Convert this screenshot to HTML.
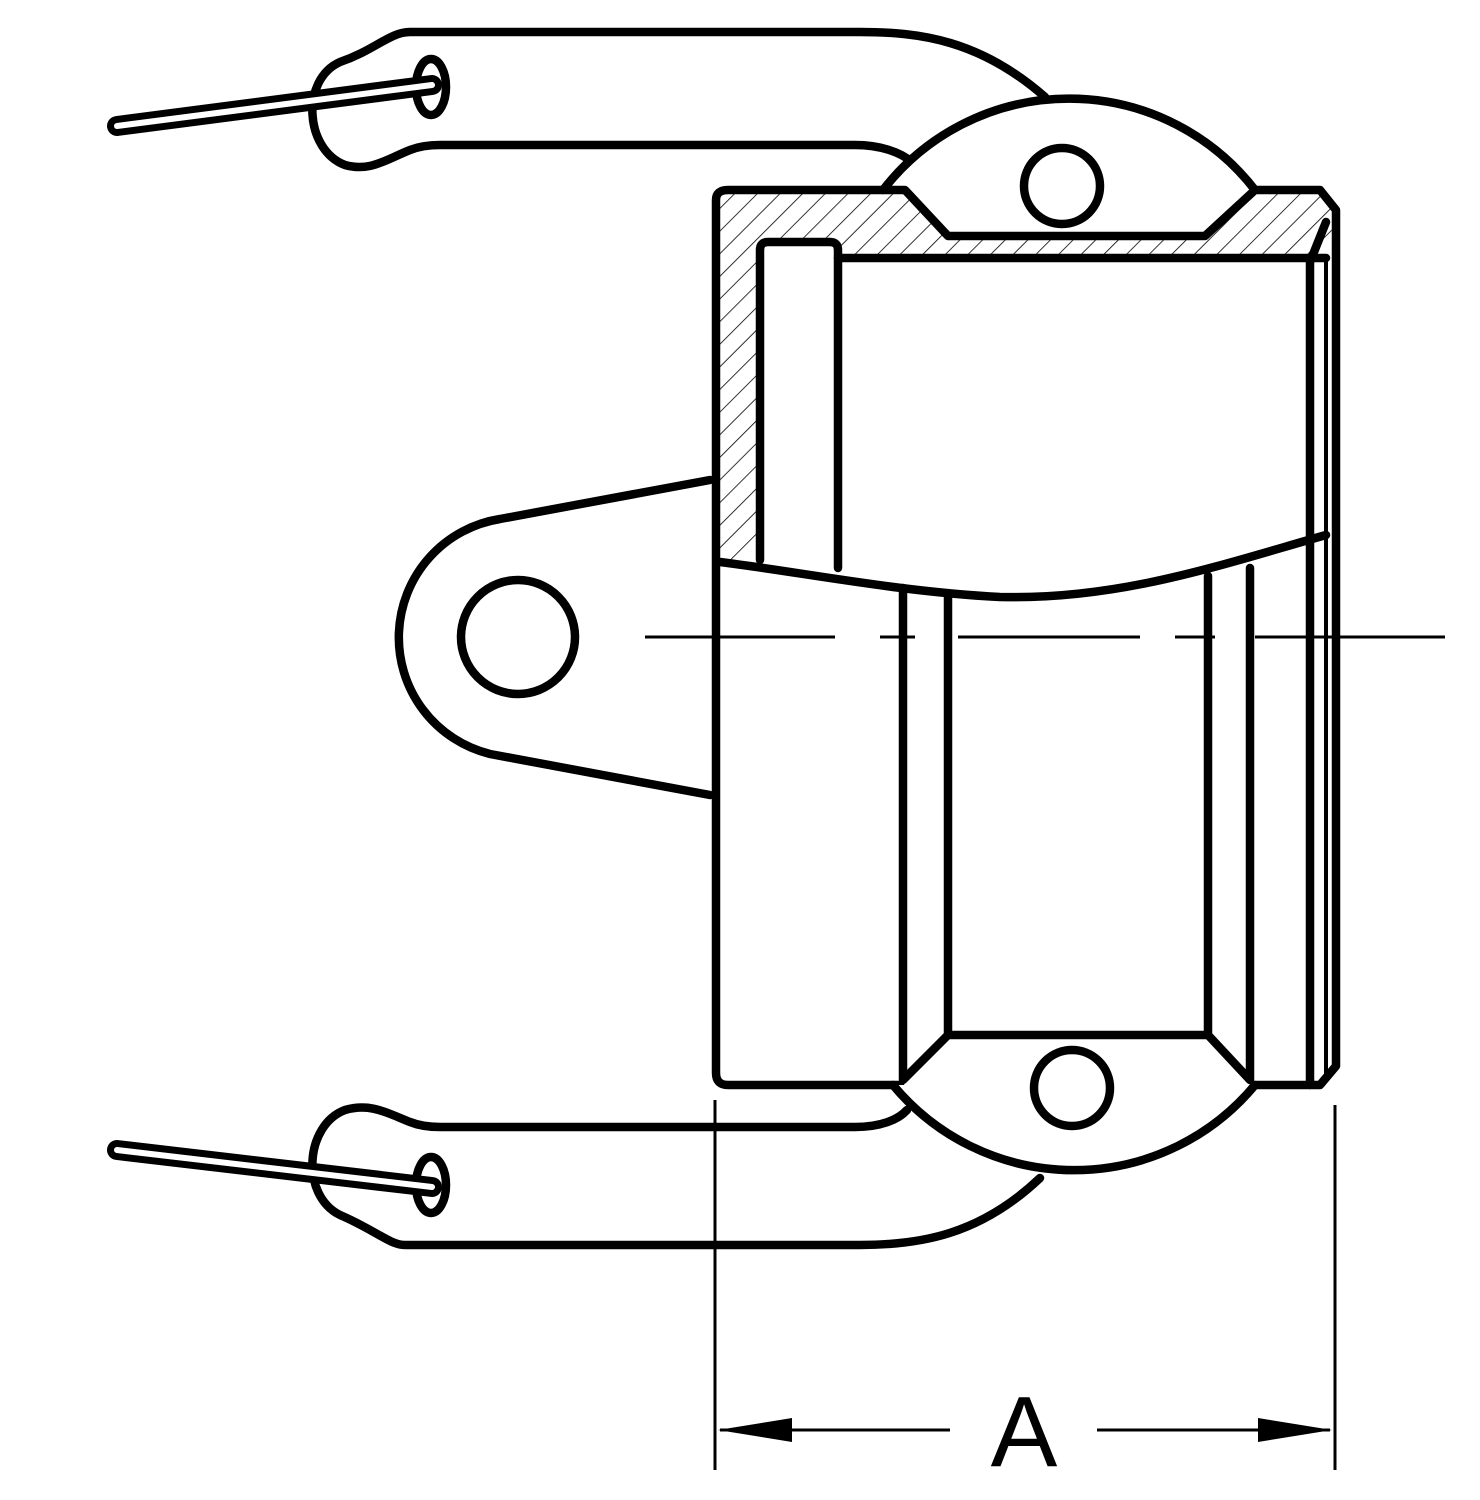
<!DOCTYPE html>
<html><head><style>html,body{margin:0;padding:0;background:#fff}svg{display:block}</style></head>
<body>
<svg width="1480" height="1500" viewBox="0 0 1480 1500" xmlns="http://www.w3.org/2000/svg">
<defs>
<pattern id="h" patternUnits="userSpaceOnUse" width="16" height="16" patternTransform="rotate(45)">
<line x1="0" y1="0" x2="0" y2="16" stroke="#000" stroke-width="1.6"/>
</pattern>
</defs>
<g fill="none" stroke="#000" stroke-width="8.5" stroke-linejoin="round" stroke-linecap="round">
<path d="M716,200 Q716,190 728,190 L905,190 L948,236 L1205,236 L1255,190 L1320,190 L1336,210 L1326,258 L838,258 L838,242 L760,242 L760,555 L720,562 Z" fill="url(#h)" stroke="none"/>
<!-- top lever -->
<path d="M1045,97 C980,40 920,32 860,32 L410,32 C390,32 375,50 340,62 C300,80 305,150 345,165 C370,172 385,160 410,150 C420,146 430,145 440,145 L855,145 C880,145 900,152 912,162"/>
<ellipse cx="431" cy="87" rx="15" ry="28" fill="#fff"/>
<line x1="117" y1="126" x2="432" y2="85" stroke-width="20"/>
<line x1="117" y1="126" x2="432" y2="85" stroke="#fff" stroke-width="6"/>
<!-- bottom lever -->
<path d="M1040,1178 C980,1235 920,1245 860,1245 L405,1245 C390,1245 375,1230 340,1215 C300,1195 305,1125 345,1110 C370,1103 385,1112 410,1122 C420,1126 430,1127 440,1127 L855,1127 C880,1127 898,1120 907,1110"/>
<ellipse cx="431" cy="1185" rx="15" ry="28" fill="#fff"/>
<line x1="117" y1="1150" x2="432" y2="1187" stroke-width="20"/>
<line x1="117" y1="1150" x2="432" y2="1187" stroke="#fff" stroke-width="6"/>
<!-- top cam -->
<path d="M883,190 A235,235 0 0 1 1255,190" fill="#fff"/>
<circle cx="1062" cy="186" r="38"/>
<!-- left ear -->
<path d="M710,480 L500,519 A120,120 0 0 0 490,754 L710,795"/>
<circle cx="518" cy="637" r="57"/>
<!-- main body outline -->
<path d="M900,1085 L728,1085 Q716,1085 716,1073 L716,200 Q716,190 728,190 L905,190 L948,236 L1205,236 L1255,190 L1320,190 L1336,210 L1336,1066 L1320,1085 L1255,1085"/>
<line x1="838" y1="258" x2="1326" y2="258"/>
<path d="M760,560 L760,250 Q760,242 768,242 L830,242 Q838,242 838,250 L838,568"/>
<path d="M1326,222 L1310,262 L1310,1085"/>
<line x1="1326" y1="258" x2="1326" y2="1080" stroke-width="4"/>
<path d="M720,562 C800,572 900,592 1000,597 C1120,600 1220,565 1326,535"/>
<!-- bottom cam -->
<path d="M893,1085 A235,235 0 0 0 1255,1085" fill="#fff" stroke="none"/>
<path d="M893,1085 A235,235 0 0 0 1255,1085"/>
<circle cx="1072" cy="1088" r="38"/>
<!-- lower body -->
<path d="M903,588 L903,1080 L948,1035 L1208,1035 L1250,1080 L1250,568"/>
<line x1="948" y1="594" x2="948" y2="1035"/>
<line x1="1208" y1="576" x2="1208" y2="1035"/>
</g>
<g stroke="#000" stroke-width="3">
<line x1="645" y1="637" x2="835" y2="637"/>
<line x1="880" y1="637" x2="915" y2="637"/>
<line x1="958" y1="637" x2="1140" y2="637"/>
<line x1="1175" y1="637" x2="1215" y2="637"/>
<line x1="1255" y1="637" x2="1445" y2="637"/>
<line x1="715" y1="1100" x2="715" y2="1470"/>
<line x1="1335" y1="1105" x2="1335" y2="1470"/>
<line x1="720" y1="1430" x2="950" y2="1430"/>
<line x1="1097" y1="1430" x2="1330" y2="1430"/>
</g>
<polygon points="718,1430 792,1418 792,1442" fill="#000"/>
<polygon points="1332,1430 1258,1418 1258,1442" fill="#000"/>
<text x="1024" y="1466" font-family="Liberation Sans, sans-serif" font-size="100" text-anchor="middle" fill="#000">A</text>
</svg>
</body></html>
